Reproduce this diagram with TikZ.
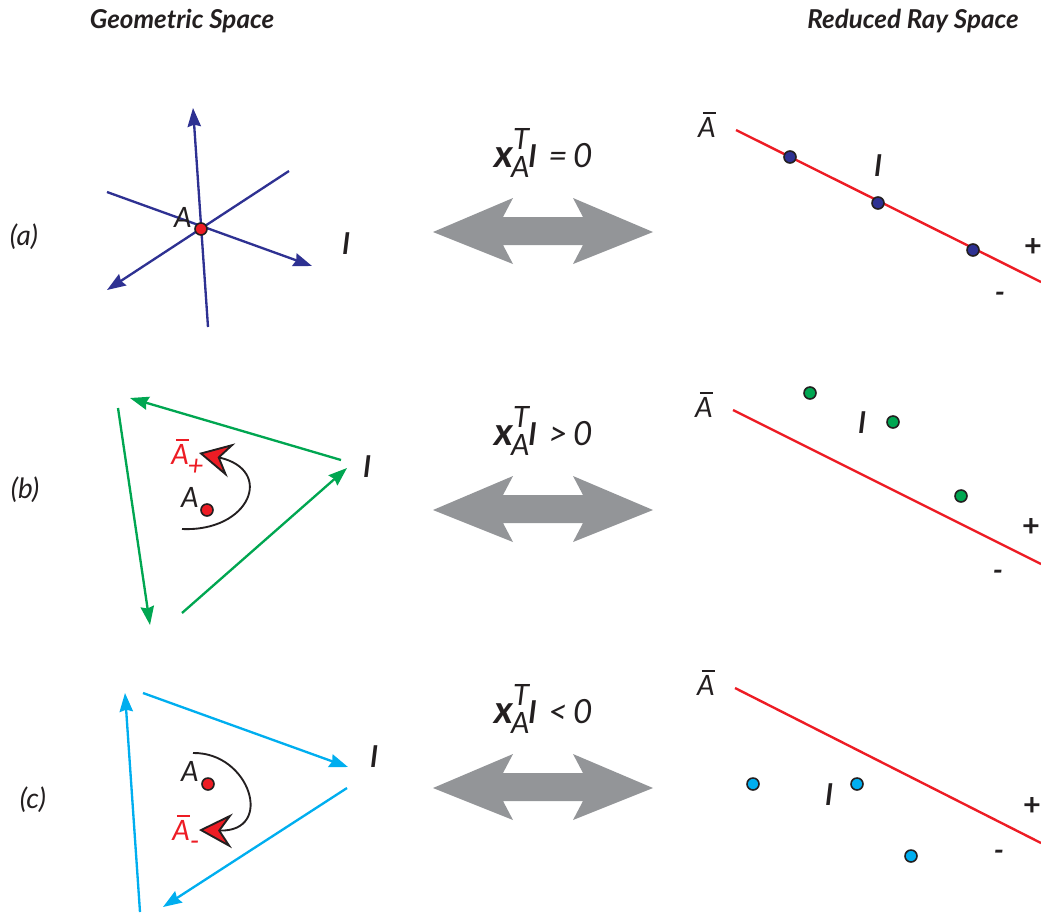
\documentclass[tikz,border=0pt]{standalone}
\usepackage{fontspec}
\setmainfont{Lato}
\usepackage{tikz}
\usetikzlibrary{arrows.meta,positioning}
\definecolor{Ink}{HTML}{231F20}
\definecolor{Navy}{HTML}{2E3192}
\definecolor{Green}{HTML}{00A651}
\definecolor{Cyan}{HTML}{00AEEF}
\definecolor{Red}{HTML}{ED1C24}
\definecolor{Grey}{HTML}{939598}
\newcommand\Abar{\rlap{\kern3.5pt\rule[17.5pt]{9.5pt}{1pt}}A}
\newcommand\xAl[1]{{\fontsize{29}{30}\selectfont\bfseries x}\rlap{\raisebox{13.5pt}{T}}\kern-1.5pt\raisebox{-8pt}{A}\kern-0.5pt{\fontsize{23}{24}\selectfont\bfseries l}\hspace{9pt}{\fontsize{25}{26}\selectfont #1}}
\tikzset{
  head/.style={font=\fontsize{19.5}{22}\selectfont\bfseries\itshape,text=Ink,inner sep=0pt},
  lbl/.style={font=\fontsize{21}{24}\selectfont\itshape,text=Ink,inner sep=0pt},
  linel/.style={font=\fontsize{22}{24}\selectfont\bfseries\itshape,text=Ink,inner sep=0pt},
  sign/.style={font=\fontsize{23}{24}\selectfont\bfseries,text=Ink,inner sep=0pt,anchor=base},
  eq/.style={font=\fontsize{22}{24}\selectfont\itshape,text=Ink,inner sep=0pt},
  ray/.style={line width=1.75pt,-{Stealth[length=14pt,width=10pt,inset=1.5pt]}},
  turn/.style={draw=Ink,line width=1.4pt,-{Stealth[length=25pt,width=26pt,inset=9pt,fill=Red]}},
  redline/.style={draw=Red,line width=1.8pt},
  dot/.style={circle,draw=Ink,line width=1.2pt,minimum size=9pt,inner sep=0pt}
}
\begin{document}
\begin{tikzpicture}[x=0.75pt,y=-0.75pt]
  \useasboundingbox (0,0) rectangle (1041,915);
  % headings and row labels
  \node[head,anchor=base] (geo) at (182,28) {Geometric Space};
  \node[head,anchor=base] (rrs) at (913,28) {Reduced Ray Space};
  \node[lbl] (rowa) at (24,237) {(a)};
  \node[lbl] (rowb) at (25,490) {(b)};
  \node[lbl] (rowc) at (33,800) {(c)};

  % (a) lines through A
  \draw[ray,Navy] (208,327) -- (193,108);
  \draw[ray,Navy] (107,192) -- (312,266);
  \draw[ray,Navy] (289,171) -- (107,290);
  \node[dot,fill=Red] (pa) at (201,229) {};
  \node[lbl,anchor=base] (lA) at (183,227) {A};
  \node[linel] (ln1) at (346,244) {l};

  % (b) A on the positive side
  \draw[ray,Green] (341,460) -- (130,398);
  \draw[ray,Green] (118,408) -- (150,625);
  \draw[ray,Green] (182,613) -- (347,468);
  \node[dot,fill=Red] (pb) at (207,510) {};
  \node[lbl,anchor=base] (lB) at (190,507) {A};
  \node[lbl,anchor=base west,text=Red] (lBp) at (171,464) {\Abar\kern-1pt\raisebox{-8.5pt}{+}};
  \draw[turn] (182,529) .. controls (250,532) and (275,470) .. (199,453);
  \node[linel] (ln2) at (367,467) {l};

  % (c) A on the negative side
  \draw[ray,Cyan] (143,693) -- (348,767);
  \draw[ray,Cyan] (347,788) -- (163,907);
  \draw[ray,Cyan] (140,912) -- (125,693);
  \node[dot,fill=Red] (pc) at (208,784) {};
  \node[lbl,anchor=base] (lC) at (190,781) {A};
  \node[lbl,anchor=base west,text=Red] (lCm) at (172,840) {\Abar\raisebox{-8pt}{-}};
  \draw[turn] (193,753) .. controls (250,752) and (275,832) .. (199,830);
  \node[linel] (ln3) at (374,757) {l};

  % middle: relation and double arrow
  \foreach \b/\rel in {167/{=\,0},445/{>\,0},723/{<\,0}} {
    \node[eq,anchor=base west] (eq\b) at (494,\b) {\xAl{\rel}};
    \begin{scope}[shift={(0,\b+65)}]
      \fill[Grey] (433,0) -- (513,-34) -- (503,-15) -- (583,-15) -- (573,-34) -- (653,0)
        -- (573,32) -- (583,13) -- (503,13) -- (513,32) -- cycle;
    \end{scope}
  }

  % reduced ray space (a)
  \draw[redline] (736,130) -- (1041,282);
  \node[lbl,anchor=base] (ra) at (707,137) {\Abar};
  \node[dot,fill=Navy] (ra1) at (790,157) {};
  \node[dot,fill=Navy] (ra2) at (878,203) {};
  \node[dot,fill=Navy] (ra3) at (973,250) {};
  \node[linel] (rla) at (878,166) {l};
  \node[sign] (rpa) at (1033,256) {+};
  \node[sign,font=\fontsize{22}{24}\selectfont\bfseries\itshape] (rma) at (1000,302) {-};

  % reduced ray space (b)
  \draw[redline] (733,410) -- (1041,564);
  \node[lbl,anchor=base] (rb) at (704,417) {\Abar};
  \node[dot,fill=Green] (rb1) at (810,393) {};
  \node[dot,fill=Green] (rb2) at (893,422) {};
  \node[dot,fill=Green] (rb3) at (961,496) {};
  \node[linel] (rlb) at (862,423) {l};
  \node[sign] (rpb) at (1031,536) {+};
  \node[sign,font=\fontsize{22}{24}\selectfont\bfseries\itshape] (rmb) at (998,580) {-};

  % reduced ray space (c)
  \draw[redline] (735,688) -- (1041,843);
  \node[lbl,anchor=base] (rc) at (706,695) {\Abar};
  \node[dot,fill=Cyan] (rc1) at (753,784) {};
  \node[dot,fill=Cyan] (rc2) at (857,784) {};
  \node[dot,fill=Cyan] (rc3) at (911,856) {};
  \node[linel] (rlc) at (829,795) {l};
  \node[sign] (rpc) at (1032,815) {+};
  \node[sign,font=\fontsize{22}{24}\selectfont\bfseries\itshape] (rmc) at (999,860) {-};
\end{tikzpicture}
\end{document}
